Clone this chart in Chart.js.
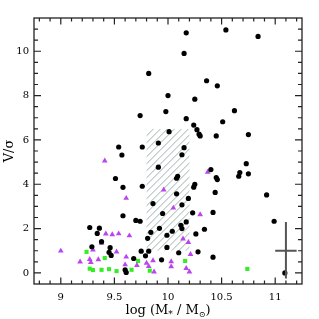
<!DOCTYPE html>
<html>
<head>
<meta charset="utf-8">
<script src="https://cdn.jsdelivr.net/npm/chart.js@4.4.1/dist/chart.umd.min.js"></script>
<style>
  html, body { margin: 0; padding: 0; background: #fff; }
  #wrap { width: 319px; height: 319px; }
</style>
</head>
<body>
<div id="wrap"><canvas id="vsig"></canvas></div>
<script>
// ---- data ----
// black circles: log M*, V/sigma
const circX = [10.17, 10.54, 10.84, 10.15, 9.82, 10.36, 10.46, 10.00, 10.25, 9.98,
  10.62, 9.74, 10.17, 10.51, 10.24, 10.27, 10.29, 10.30, 10.45, 10.75,
  10.01, 9.91, 9.54, 9.76, 10.15, 9.57, 10.13, 9.91, 10.73, 10.40,
  10.67, 10.66, 10.75, 10.45, 10.46, 10.09, 10.08, 9.51, 10.25, 10.24,
  9.58, 9.76, 10.08, 10.44, 10.92, 10.19, 9.86, 10.13, 10.42, 10.23,
  9.95, 9.58, 10.99, 10.17, 9.74, 9.70, 10.12, 10.13, 9.92, 10.34,
  9.27, 9.36, 9.34, 9.84, 10.04, 10.26, 9.99, 9.81, 9.38, 9.29,
  9.46, 9.99, 9.45, 9.47, 9.75, 9.82, 9.79, 10.10, 10.28, 10.42,
  9.68, 9.94, 9.60, 9.61, 11.09];
const circY = [10.83, 10.96, 10.67, 9.90, 9.00, 8.67, 8.44, 8.00, 7.84, 7.28,
  7.32, 7.10, 6.96, 6.82, 6.67, 6.46, 6.26, 6.18, 6.18, 6.24,
  6.37, 5.86, 5.68, 5.68, 5.65, 5.32, 5.33, 4.77, 4.93, 4.66,
  4.53, 4.36, 4.47, 4.30, 4.21, 4.36, 4.27, 4.26, 4.00, 3.87,
  3.86, 3.91, 3.57, 3.63, 3.52, 3.36, 3.13, 3.07, 2.73, 2.71,
  2.68, 2.58, 2.33, 2.30, 2.33, 2.37, 2.15, 2.00, 2.01, 1.97,
  2.05, 2.02, 1.78, 1.83, 1.88, 1.76, 1.70, 1.56, 1.41, 1.18,
  1.14, 1.15, 0.93, 0.79, 0.98, 0.98, 0.77, 0.91, 0.95, 0.71,
  0.65, 0.59, 0.14, 0.02, 0.00];

// magenta triangles
const triX = [9.41, 10.37, 9.96, 9.61, 10.30, 10.05, 10.14, 10.19, 9.42, 9.48,
  9.54, 9.64, 9.38, 9.00, 9.30, 9.52, 10.21, 9.61, 9.35, 9.18,
  9.27, 9.28, 9.86, 10.03, 9.60, 9.71, 9.80, 9.82, 10.03, 10.17,
  9.87, 10.20];
const triY = [5.06, 4.55, 3.75, 3.37, 2.63, 2.93, 1.54, 1.38, 1.76, 1.73,
  1.77, 1.68, 1.35, 0.99, 1.04, 0.95, 0.84, 0.72, 0.60, 0.50,
  0.61, 0.48, 0.56, 0.51, 0.37, 0.34, 0.44, 0.30, 0.29, 0.21,
  0.05, 0.05];

// green squares
const sqX = [10.16, 10.74, 9.24, 9.41, 9.72, 9.27, 9.30, 9.38, 9.45, 9.52, 9.66, 9.83];
const sqY = [0.54, 0.18, 0.95, 0.67, 0.54, 0.19, 0.13, 0.14, 0.17, 0.08, 0.14, 0.10];

// hatched box and typical error bar
const boxX = [9.8, 10.2];
const boxY = [1.0, 6.5];
const errX = [11.0, 11.1, 11.2];
const errY = [-0.25, 1.0, 2.3];

// axes
const xRange = [8.75, 11.25];
const yRange = [-0.5, 11.5];
const xTicks = [9, 9.5, 10, 10.5, 11];
const yTicks = [0, 2, 4, 6, 8, 10];
const xMinorStep = 0.1;
const yMinorStep = 0.5;

const serif = "'DejaVu Serif', 'Liberation Serif', serif";

function toPoints(xs, ys) {
    return xs.map((x, i) => ({ x: x, y: ys[i] }));
}

// hatch box behind the points
const hatchPlugin = {
    id: 'hatch',
    beforeDatasetsDraw(chart) {
        const { ctx, scales } = chart;
        const x0 = scales.x.getPixelForValue(boxX[0]);
        const x1 = scales.x.getPixelForValue(boxX[1]);
        const y0 = scales.y.getPixelForValue(boxY[1]);
        const y1 = scales.y.getPixelForValue(boxY[0]);
        ctx.save();
        ctx.beginPath();
        ctx.rect(x0, y0, x1 - x0, y1 - y0);
        ctx.clip();
        ctx.strokeStyle = '#9fb0b0';
        ctx.lineWidth = 1;
        const h = y1 - y0;
        for (let s = x0 - h; s < x1 + 7; s += 7) {
            ctx.beginPath();
            ctx.moveTo(s, y1);
            ctx.lineTo(s + h, y0);
            ctx.stroke();
        }
        ctx.restore();
    }
};

// frame, inward ticks, error bar, x title
const framePlugin = {
    id: 'frame',
    afterDraw(chart) {
        const { ctx, chartArea: a, scales } = chart;
        const sx = scales.x, sy = scales.y;
        ctx.save();

        // error bar
        ctx.strokeStyle = '#555';
        ctx.lineWidth = 2;
        ctx.beginPath();
        ctx.moveTo(sx.getPixelForValue(errX[1]), sy.getPixelForValue(errY[0]));
        ctx.lineTo(sx.getPixelForValue(errX[1]), sy.getPixelForValue(errY[2]));
        ctx.moveTo(sx.getPixelForValue(errX[0]), sy.getPixelForValue(errY[1]));
        ctx.lineTo(sx.getPixelForValue(errX[2]), sy.getPixelForValue(errY[1]));
        ctx.stroke();

        // frame
        ctx.strokeStyle = '#222';
        ctx.lineWidth = 1.3;
        ctx.strokeRect(a.left, a.top, a.right - a.left, a.bottom - a.top);

        // ticks
        ctx.lineWidth = 1.2;
        ctx.beginPath();
        for (let v = Math.ceil(xRange[0] / xMinorStep) * xMinorStep; v < xRange[1]; v += xMinorStep) {
            const r = Math.round(v * 10) / 10;
            const major = xTicks.some(t => Math.abs(t - r) < 1e-6);
            const len = major ? 6.5 : 3.5;
            const px = sx.getPixelForValue(r);
            ctx.moveTo(px, a.bottom); ctx.lineTo(px, a.bottom - len);
            ctx.moveTo(px, a.top); ctx.lineTo(px, a.top + len);
        }
        for (let v = yRange[0] + yMinorStep; v < yRange[1]; v += yMinorStep) {
            const major = yTicks.some(t => Math.abs(t - v) < 1e-6);
            const len = major ? 7 : 4;
            const py = sy.getPixelForValue(v);
            ctx.moveTo(a.left, py); ctx.lineTo(a.left + len, py);
            ctx.moveTo(a.right, py); ctx.lineTo(a.right - len, py);
        }
        ctx.stroke();

        // x title with subscripts
        const parts = [
            ['log (M', 13, 0], ['*', 9, 3], [' / M', 13, 0], ['\u2299', 8, 3], [')', 13, 0]
        ];
        let w = 0;
        parts.forEach(p => { ctx.font = p[1] + 'px ' + serif; w += ctx.measureText(p[0]).width; });
        let x = (a.left + a.right) / 2 - w / 2;
        const base = 313.5;
        ctx.fillStyle = '#000';
        ctx.textBaseline = 'alphabetic';
        parts.forEach(p => {
            ctx.font = p[1] + 'px ' + serif;
            ctx.fillText(p[0], x, base + p[2]);
            x += ctx.measureText(p[0]).width;
        });
        ctx.restore();
    }
};

new Chart(document.getElementById('vsig'), {
    type: 'scatter',
    data: {
        datasets: [
            {
                label: 'circles',
                data: toPoints(circX, circY),
                pointStyle: 'circle',
                pointRadius: 2.6,
                pointBorderWidth: 0,
                backgroundColor: '#000'
            },
            {
                label: 'triangles',
                data: toPoints(triX, triY),
                pointStyle: 'triangle',
                pointRadius: 3.3,
                pointBorderWidth: 0,
                backgroundColor: '#bb44ee'
            },
            {
                label: 'squares',
                data: toPoints(sqX, sqY),
                pointStyle: 'rect',
                pointRadius: 2.9,
                pointBorderWidth: 0,
                backgroundColor: '#33ee22'
            }
        ]
    },
    options: {
        responsive: true,
        maintainAspectRatio: false,
        animation: false,
        events: [],
        layout: { padding: { top: 18, right: 17, left: 0, bottom: 0 } },
        plugins: {
            legend: { display: false },
            tooltip: { enabled: false }
        },
        scales: {
            x: {
                type: 'linear',
                min: xRange[0],
                max: xRange[1],
                grid: { display: false, drawTicks: false },
                border: { display: false },
                afterBuildTicks: s => { s.ticks = xTicks.map(v => ({ value: v })); },
                afterFit: s => { s.height = 35; },
                ticks: {
                    padding: 7,
                    color: '#000',
                    font: { family: serif, size: 10 },
                    maxRotation: 0,
                    callback: v => String(v)
                }
            },
            y: {
                type: 'linear',
                min: yRange[0],
                max: yRange[1],
                grid: { display: false, drawTicks: false },
                border: { display: false },
                afterBuildTicks: s => { s.ticks = yTicks.map(v => ({ value: v })); },
                afterFit: s => { s.width = 34; },
                ticks: {
                    padding: 5,
                    color: '#000',
                    font: { family: serif, size: 10 },
                    callback: v => String(v)
                },
                title: {
                    display: true,
                    text: 'V/\u03c3',
                    color: '#000',
                    font: { family: serif, size: 13 },
                    padding: { top: 2, bottom: 0 }
                }
            }
        }
    },
    plugins: [hatchPlugin, framePlugin]
});
</script>
</body>
</html>
